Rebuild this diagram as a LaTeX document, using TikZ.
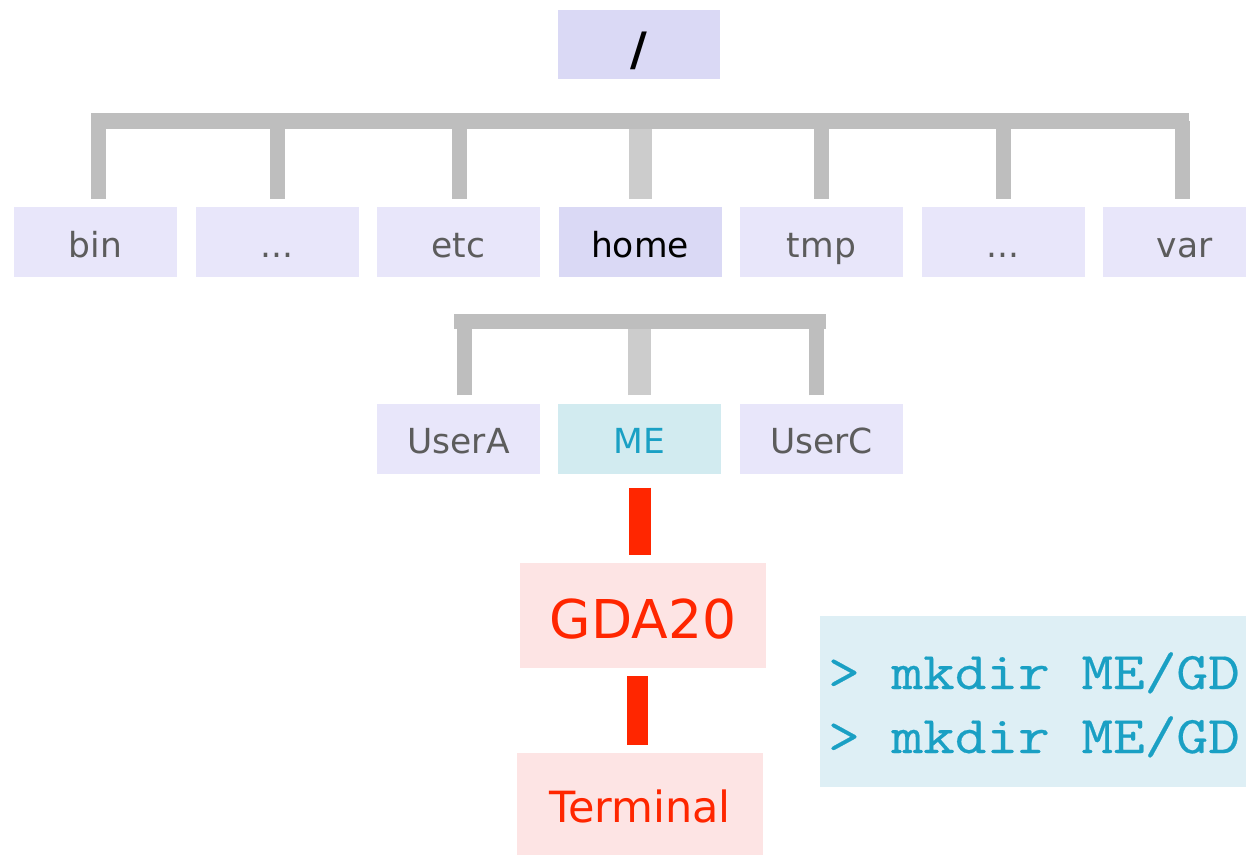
\documentclass[tikz,border=0pt]{standalone}
\usepackage{fontspec}
\setmainfont{DejaVu Sans}
\newfontfamily\cmdfont{Latin Modern Mono}[FakeStretch=1.16, FakeBold=0.4]
\usetikzlibrary{calc}

\definecolor{dirfill}{RGB}{232,230,250}
\definecolor{selfill}{RGB}{218,217,245}
\definecolor{mefill}{RGB}{210,235,240}
\definecolor{pinkfill}{RGB}{253,228,228}
\definecolor{cmdfill}{RGB}{222,239,245}
\definecolor{bargray}{RGB}{190,190,190}
\definecolor{barlight}{RGB}{204,204,204}
\definecolor{hotred}{RGB}{255,38,0}
\definecolor{teal}{RGB}{26,160,196}
\definecolor{labelgray}{RGB}{92,92,92}

\begin{document}
\begin{tikzpicture}[x=1pt,y=-1pt,
  dirbox/.style={rectangle, fill=dirfill, draw=none, inner sep=0pt,
    minimum width=163pt, minimum height=70pt,
    text=labelgray, font=\fontsize{34.5}{40}\selectfont,
    text height=30pt, text depth=0pt},
  selbox/.style={dirbox, fill=selfill, text=black},
  mebox/.style={dirbox, fill=mefill, text=teal},
  redbox/.style={rectangle, fill=pinkfill, inner sep=0pt,
    minimum width=246pt, minimum height=105pt, text=hotred, text depth=0pt},
  bus/.style={draw=bargray, line width=16pt},
  stub/.style={draw=bargray, line width=15pt},
  mainstub/.style={draw=barlight, line width=23pt},
  redlink/.style={draw=hotred, line width=22pt},
  cmdline/.style={anchor=base west, inner sep=0pt, text=teal,
    font=\cmdfont\fontsize{53}{60}\selectfont}
]
\useasboundingbox (0,0) rectangle (1246,854);
\clip (0,0) rectangle (1246,854);

% root directory
\node[selbox, minimum width=162pt, minimum height=69pt,
      font=\bfseries\fontsize{46}{50}\selectfont, text height=42pt] (root) at (639,44.5) {/};

% first level
\node[dirbox] (bin)   at (95.5,242)  {bin};
\node[dirbox] (dotsA) at (277,242)   {...};
\node[dirbox] (etc)   at (458.5,242) {etc};
\node[selbox] (home)  at (640,242)   {home};
\node[dirbox] (tmp)   at (821.5,242) {tmp};
\node[dirbox] (dotsB) at (1003,242)  {...};
\node[dirbox] (var)   at (1184.5,242){var};

% second level
\node[dirbox] (usera) at (458.5,438.5) {UserA};
\node[mebox]  (me)    at (639.5,438.5) {ME};
\node[dirbox] (userc) at (821.5,438.5) {UserC};

% project and terminal
\node[redbox, font=\fontsize{53.5}{60}\selectfont, text height=45pt] (gda) at (643,615.5) {GDA20};
\node[redbox, font=\fontsize{43}{50}\selectfont, text height=33pt] (term) at (640,805.5) {Terminal};

% command panel
\node[rectangle, fill=cmdfill, inner sep=0pt, anchor=north west,
      minimum width=460pt, minimum height=171pt] (cmd) at (820,616) {};
\node[cmdline] (cmdA) at (828,689) {> mkdir ME/GD};
\node[cmdline] (cmdB) at (828,753) {> mkdir ME/GD};

% top bus and stubs
\coordinate (busL) at (91,121);
\coordinate (busR) at (1189,121);
\foreach \d/\dx in {bin/3, dotsA/0, etc/0.5, tmp/0, dotsB/0, var/-2.5}{
  \draw[stub] ([xshift=\dx pt, yshift=8pt]\d.north) -- ($(\d.north |- busL)+(\dx pt,0)$);
}
\draw[mainstub] ([yshift=8pt]home.north) -- (home.north |- busL);
\draw[bus] (busL) -- (busR);

% home bus and stubs
\coordinate (hbusL) at (454,321.5);
\coordinate (hbusR) at (826,321.5);
\draw[stub] ([xshift=5.5pt, yshift=8pt]usera.north) -- ($(usera.north |- hbusL)+(5.5pt,0)$);
\draw[stub] ([xshift=-5.5pt, yshift=8pt]userc.north) -- ($(userc.north |- hbusL)+(-5.5pt,0)$);
\draw[mainstub] ([yshift=8pt]me.north) -- (me.north |- hbusL);
\draw[bus, line width=15pt] (hbusL) -- (hbusR);

% red path from ME down to the terminal
\draw[redlink] ([yshift=-14pt]me.south) -- ($(me.south |- gda.north)+(0,8pt)$);
\draw[redlink, line width=21pt] ($(term.north |- gda.south)+(-2.5pt,-8pt)$) -- ([xshift=-2.5pt, yshift=8pt]term.north);
\end{tikzpicture}
\end{document}
